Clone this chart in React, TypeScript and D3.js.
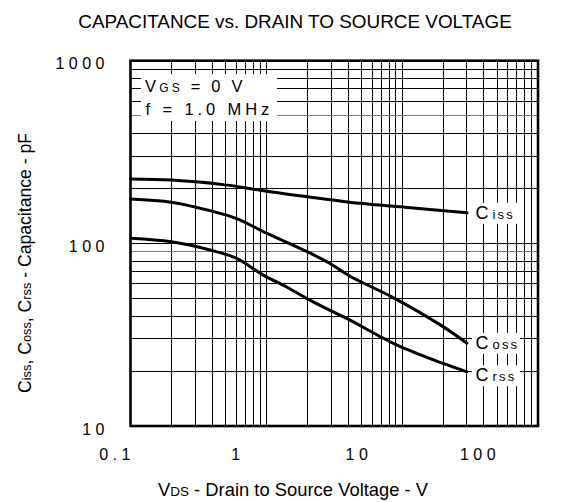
import React from "react";
import * as d3 from "d3";

// ---- data ----
const X_TICK_VALUES = [0.1, 1, 10, 100];
const X_TICK_LABELS = ["0.1", "1", "10", "100"];
const Y_TICK_VALUES = [10, 100, 1000];
const Y_TICK_LABELS = ["10", "100", "1000"];

const CISS_VDS = [0.1, 0.2, 0.5, 0.95, 2, 4.1, 9.1, 30];
const CISS_PF = [225, 222, 209, 194, 180, 168, 159, 147];

const COSS_VDS = [0.1, 0.2, 0.385, 0.6, 0.95, 2, 2.9, 4.1, 8.8, 20, 30];
const COSS_PF = [175, 168, 151, 137, 116, 90, 78, 66.3, 50, 35, 28.4];

const CRSS_VDS = [0.1, 0.2, 0.385, 0.6, 0.95, 1.41, 1.98, 2.9, 4.1, 9.1, 20, 30];
const CRSS_PF = [106.6, 102, 92, 83, 67, 57.7, 50, 43.2, 38.1, 27.8, 22, 19.8];

const SERIES_NAMES = ["iss", "oss", "rss"];

// grid lines that look lighter in the reference
const SOFT_Y_GRID = [500, 90];

const W = 585;
const H = 502;
const FONT = "Arial, 'Liberation Sans', Helvetica, sans-serif";

export default function App() {
  const left = 130.5, right = 538, top = 60.7, bottom = 426;
  const x = d3.scaleLog().domain([0.1, 100]).range([left, right]);
  const y = d3.scaleLog().domain([10, 1000]).range([bottom, top]);
  // tick labels in the reference are spaced differently than the grid
  const xLab = d3.scaleLog().domain([0.1, 100]).range([115, 478]);

  const xGrid = x.ticks().filter((v) => v > 0.1 * 1.0001 && v < 100 * 0.9999);
  const yGrid = y.ticks().filter((v) => v > 10 * 1.0001 && v < 1000 * 0.9999);

  const series = [
    { name: SERIES_NAMES[0], v: CISS_VDS, c: CISS_PF, dy: 6 },
    { name: SERIES_NAMES[1], v: COSS_VDS, c: COSS_PF, dy: 5.5 },
    { name: SERIES_NAMES[2], v: CRSS_VDS, c: CRSS_PF, dy: 9.5 },
  ];

  const line = d3
    .line<[number, number]>()
    .x((d) => x(d[0]))
    .y((d) => y(d[1]))
    .curve(d3.curveCatmullRom.alpha(0.5));

  const isSoft = (v: number) => SOFT_Y_GRID.some((s) => Math.abs(s - v) < 1e-6);

  return (
    <svg
      width={W}
      height={H}
      style={{ position: "absolute", left: 0, top: 0, background: "#fff" }}
      fontFamily={FONT}
    >
      <rect x={0} y={0} width={W} height={H} fill="#fff" />
      {/* title */}
      <text x={295} y={28} fontSize={18.9} textAnchor="middle" fill="#000">
        CAPACITANCE vs. DRAIN TO SOURCE VOLTAGE
      </text>

      {/* grid */}
      <g shapeRendering="crispEdges" strokeWidth={1}>
        {xGrid.map((v) => (
          <line key={"x" + v} x1={x(v)} x2={x(v)} y1={top} y2={bottom} stroke="#000" />
        ))}
        {yGrid.map((v) => (
          <line
            key={"y" + v}
            x1={left}
            x2={right}
            y1={y(v)}
            y2={y(v)}
            stroke={isSoft(v) ? "#7a7a7a" : "#000"}
          />
        ))}
      </g>

      {/* white boxes behind annotation text */}
      <rect x={141} y={74} width={136} height={47} fill="#fff" />
      {series.map((s) => {
        const n = s.v.length - 1;
        const bx = x(s.v[n]) + 5;
        const by = y(s.c[n]) + s.dy - 16;
        return <rect key={"b" + s.name} x={bx} y={by} width={48} height={21} fill="#fff" />;
      })}

      {/* border */}
      <rect
        x={left}
        y={top}
        width={right - left}
        height={bottom - top}
        fill="none"
        stroke="#000"
        strokeWidth={2.6}
      />

      {/* curves */}
      {series.map((s) => (
        <path
          key={"p" + s.name}
          d={line(s.v.map((v, i) => [v, s.c[i]] as [number, number])) || ""}
          fill="none"
          stroke="#000"
          strokeWidth={3}
          strokeLinejoin="round"
          strokeLinecap="round"
        />
      ))}

      {/* curve labels */}
      {series.map((s) => {
        const n = s.v.length - 1;
        return (
          <text
            key={"t" + s.name}
            x={x(s.v[n]) + 8.5}
            y={y(s.c[n]) + s.dy}
            fill="#000"
            fontSize={18}
          >
            C
            <tspan dx={4} fontSize={13} letterSpacing={2.2}>
              {s.name}
            </tspan>
          </text>
        );
      })}

      {/* annotation */}
      <text x={145} y={91.5} fontSize={16.5} fill="#000" letterSpacing={3.2}>
        V<tspan fontSize={12}>GS</tspan>
        <tspan> = 0 V</tspan>
      </text>
      <text x={145.5} y={115} fontSize={16.5} fill="#000" letterSpacing={3.9}>
        f = 1.0 MHz
      </text>

      {/* y tick labels */}
      {Y_TICK_VALUES.map((v, i) => (
        <text
          key={"yl" + v}
          x={109}
          y={y(v) + 8.5}
          fontSize={16}
          textAnchor="end"
          letterSpacing={4.5}
          fill="#000"
        >
          {Y_TICK_LABELS[i]}
        </text>
      ))}

      {/* x tick labels */}
      {X_TICK_VALUES.map((v, i) => (
        <text
          key={"xl" + v}
          x={xLab(v) + 2}
          y={460}
          fontSize={16}
          textAnchor="middle"
          letterSpacing={4.5}
          fill="#000"
        >
          {X_TICK_LABELS[i]}
        </text>
      ))}

      {/* axis titles */}
      <text x={293} y={496} fontSize={18.4} textAnchor="middle" fill="#000">
        V<tspan fontSize={13.5}>DS</tspan>
        <tspan> - Drain to Source Voltage - V</tspan>
      </text>
      <text
        transform="translate(31,263) rotate(-90)"
        fontSize={17.6}
        textAnchor="middle"
        fill="#000"
      >
        C<tspan fontSize={12.8}>iss</tspan>
        <tspan>, C</tspan>
        <tspan fontSize={12.8}>oss</tspan>
        <tspan>, C</tspan>
        <tspan fontSize={12.8}>rss</tspan>
        <tspan> - Capacitance - pF</tspan>
      </text>
    </svg>
  );
}
